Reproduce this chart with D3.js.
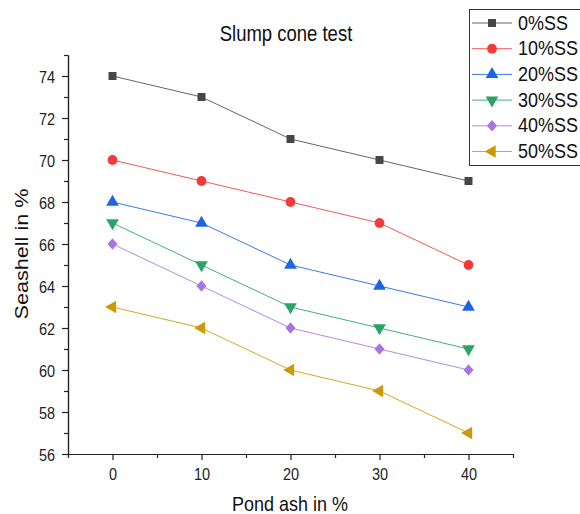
<!DOCTYPE html>
<html>
<head>
<meta charset="utf-8">
<script src="https://cdn.jsdelivr.net/npm/d3@7"></script>
<style>
body{margin:0;background:#fff;}
svg{font-family:Arial, "Liberation Sans", sans-serif;}
</style>
</head>
<body>
<svg id="svg" width="580" height="514"></svg>
<script>
var pondAsh = [0, 10, 20, 30, 40];
var seriesNames = ['0%SS', '10%SS', '20%SS', '30%SS', '40%SS', '50%SS'];
var ss0 = [74, 73, 71, 70, 69];
var ss10 = [70, 69, 68, 67, 65];
var ss20 = [68, 67, 65, 64, 63];
var ss30 = [67, 65, 63, 62, 61];
var ss40 = [66, 64, 62, 61, 60];
var ss50 = [63, 62, 60, 59, 57];
var yTicks = [56, 58, 60, 62, 64, 66, 68, 70, 72, 74];
var xTicks = [0, 10, 20, 30, 40];

var allSeries = [ss0, ss10, ss20, ss30, ss40, ss50];
var colors = ['#474747', '#f23a3a', '#1d66e0', '#2aa465', '#a774e0', '#cc9a06'];
var lineColors = ['#666666', '#f45a5a', '#3a7ae6', '#43b07a', '#b38ae6', '#d4a826'];
var shapes = [d3.symbolSquare, d3.symbolCircle, d3.symbolTriangle, d3.symbolTriangle, d3.symbolSquare, d3.symbolTriangle];
var rotations = [0, 0, 0, 180, 45, -90];
var sizes = [64, 75, 70, 70, 50, 70];
var stretch = [1, 1, 1, 1, 1.15, 1];

var s = d3.select('#svg');
var x = d3.scaleLinear().domain([-5, 45]).range([68, 513]);
var y = d3.scaleLinear().domain([56, 75]).range([454, 55]);

// axes
var xAxis = d3.axisBottom(x).tickValues(xTicks).tickSize(6).tickSizeOuter(0);
var gx = s.append('g').attr('transform', 'translate(0,454)').call(xAxis);
gx.selectAll('text')
    .attr('font-size', 14.5).attr('fill', '#222')
    .attr('y', 0).attr('dy', 0)
    .attr('transform', 'translate(0,26) scale(1,1.2)');
gx.selectAll('line,path').attr('stroke', '#222').attr('stroke-width', 1.2);
var xMinor = d3.axisBottom(x).tickValues([-5, 5, 15, 25, 35, 45]).tickSize(4).tickFormat('').tickSizeOuter(0);
s.append('g').attr('transform', 'translate(0,454)').call(xMinor)
    .selectAll('line,path').attr('stroke', '#222').attr('stroke-width', 1.2);

var yAxis = d3.axisLeft(y).tickValues(yTicks).tickSize(6).tickSizeOuter(0);
var gy = s.append('g').attr('transform', 'translate(68,0)').call(yAxis);
gy.selectAll('text')
    .attr('font-size', 14.5).attr('fill', '#222')
    .attr('x', -13).attr('y', 0).attr('dy', 0)
    .attr('transform', 'translate(0,6) scale(1,1.2)');
gy.selectAll('line,path').attr('stroke', '#222').attr('stroke-width', 1.2);
var yMinor = d3.axisLeft(y).tickValues([57, 59, 61, 63, 65, 67, 69, 71, 73, 75]).tickSize(4).tickFormat('').tickSizeOuter(0);
s.append('g').attr('transform', 'translate(68,0)').call(yMinor)
    .selectAll('line,path').attr('stroke', '#222').attr('stroke-width', 1.2);

// lines and markers
function markerTransform(px, py, k){
    return 'translate(' + px + ',' + py + ') scale(1,' + stretch[k] + ') rotate(' + rotations[k] + ')';
}
var line = d3.line().x(function(d, i){ return x(pondAsh[i]); }).y(function(d){ return y(d); });
allSeries.forEach(function(ser, k){
    s.append('path')
        .attr('d', line(ser))
        .attr('fill', 'none')
        .attr('stroke', lineColors[k])
        .attr('stroke-width', 1);
    s.selectAll('.m' + k).data(ser).enter()
        .append('path')
        .attr('class', 'm' + k)
        .attr('d', d3.symbol().type(shapes[k]).size(sizes[k]))
        .attr('transform', function(d, i){ return markerTransform(x(pondAsh[i]), y(d), k); })
        .attr('fill', colors[k]);
});

// title and labels
s.append('text').attr('transform', 'translate(286,41) scale(1,1.2)').attr('text-anchor', 'middle')
    .attr('font-size', 18.5).attr('fill', '#111').text('Slump cone test');
s.append('text').attr('transform', 'translate(290,511) scale(1,1.15)').attr('text-anchor', 'middle')
    .attr('font-size', 18).attr('fill', '#111').text('Pond ash in %');
s.append('text').attr('transform', 'translate(28,254) rotate(-90) scale(1.2,1)').attr('text-anchor', 'middle')
    .attr('font-size', 18).attr('fill', '#111').text('Seashell in %');

// legend
var lg = s.append('g');
lg.append('rect').attr('x', 469.5).attr('y', 9.5).attr('width', 130).attr('height', 156)
    .attr('fill', '#fff').attr('stroke', '#333').attr('stroke-width', 1);
seriesNames.forEach(function(name, k){
    var ly = 23 + k * 25.7;
    lg.append('line').attr('x1', 472).attr('x2', 512).attr('y1', ly).attr('y2', ly)
        .attr('stroke', lineColors[k]).attr('stroke-width', 1);
    lg.append('path')
        .attr('d', d3.symbol().type(shapes[k]).size(sizes[k]))
        .attr('transform', markerTransform(492, ly, k))
        .attr('fill', colors[k]);
    lg.append('text').attr('transform', 'translate(518,' + (ly + 6.5) + ') scale(1,1.1)')
        .attr('font-size', 18).attr('fill', '#111').text(name);
});
</script>
</body>
</html>
